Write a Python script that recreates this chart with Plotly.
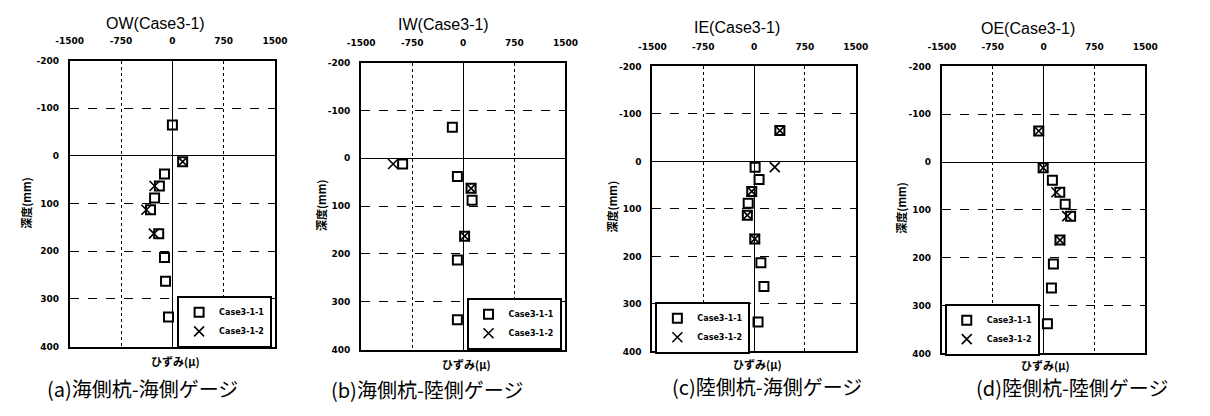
import plotly.graph_objects as go

W, H = 1210, 416

# ---- data (strain in micro, depth in mm) ----
depth_1 = [-65, 12, 38, 63, 88, 113, 163, 213, 263, 338]
depth_2 = [-65, 12, 63, 113, 163]

ow_case1 = [0, 150, -115, -190, -260, -320, -200, -115, -100, -57]
ow_case2 = [None, 150, -260, -380, -270]

iw_case1 = [-160, -890, -86, 115, 130, None, 20, -86, None, -86]
iw_case2 = [None, -1030, 115, None, 20]

ie_case1 = [380, 15, 73, -35, -87, -100, 10, 100, 145, 58]
ie_case2 = [380, 305, -35, -100, 10]

oe_case1 = [-70, -5, 131, 240, 320, 400, 243, 146, 117, 58]
oe_case2 = [-70, -5, 190, 350, 243]

panel_titles = ["OW(Case3-1)", "IW(Case3-1)", "IE(Case3-1)", "OE(Case3-1)"]
captions = ["(a)海側杭-海側ゲージ", "(b)海側杭-陸側ゲージ", "(c)陸側杭-海側ゲージ", "(d)陸側杭-陸側ゲージ"]
series_names = ["Case3-1-1", "Case3-1-2"]
x_ticks = [-1500, -750, 0, 750, 1500]
y_ticks = [-200, -100, 0, 100, 200, 300, 400]
x_title = "ひずみ(μ)"
y_title = "深度(mm)"

case1 = [ow_case1, iw_case1, ie_case1, oe_case1]
case2 = [ow_case2, iw_case2, ie_case2, oe_case2]

# ---- layout geometry (pixels) ----
plot_px = [  # left, right, top, bottom
    (57, 267, 57, 350),
    (355, 564, 59, 353),
    (653, 861, 63, 355),
    (949, 1157, 63, 357),
]
# (x, y, xanchor)
legend_px = [(264, 298, "right"), (560, 300, "right"), (656, 304, "left"), (952, 306, "left")]
title_px = [(145, 19), (439, 20), (740, 23), (1037, 24)]
xtitle_px = [(165, 365), (463, 368), (760, 368), (1055, 369)]
ytitle_px = [(12, 203), (314, 205), (612, 206), (907, 208)]
caption_px = [(131, 393), (422, 394), (770, 391), (1082, 392)]

def px(x):
    return x / W

def py(y):
    return 1 - y / H

fig = go.Figure()
tickfont = dict(family="DejaVu Sans", size=9, color="black", weight="bold")
cjk = "Noto Sans CJK JP"

annotations = []
for i in range(4):
    n = "" if i == 0 else str(i + 1)
    leg = "legend" + n
    fig.add_trace(go.Scatter(
        x=case1[i], y=depth_1, mode="markers", name=series_names[0],
        xaxis="x" + n, yaxis="y" + n, legend=leg,
        marker=dict(symbol="square-open", size=9, color="black", line=dict(width=2, color="black")),
    ))
    fig.add_trace(go.Scatter(
        x=case2[i], y=depth_2, mode="markers", name=series_names[1],
        xaxis="x" + n, yaxis="y" + n, legend=leg,
        marker=dict(symbol="x-thin-open", size=10, color="black", line=dict(width=1.6, color="black")),
    ))
    l, r, t, b = plot_px[i]
    lx, ly, la = legend_px[i]
    fig.update_layout(**{
        "xaxis" + n: dict(
            domain=[px(l), px(r)], anchor="y" + n, side="top",
            range=[-1500, 1500], tickvals=x_ticks, ticktext=[str(v) for v in x_ticks],
            showgrid=True, gridcolor="black", gridwidth=1.2, griddash="dot",
            zeroline=True, zerolinecolor="black", zerolinewidth=1,
            showline=True, mirror=True, linecolor="black", linewidth=2,
            ticks="", tickfont=tickfont, ticklabelstandoff=11,
        ),
        "yaxis" + n: dict(
            domain=[py(b), py(t)], anchor="x" + n,
            range=[400, -200], tickvals=y_ticks, ticktext=[str(v) for v in y_ticks],
            showgrid=True, gridcolor="black", gridwidth=1.2, griddash="dash",
            zeroline=True, zerolinecolor="black", zerolinewidth=1,
            showline=True, mirror=True, linecolor="black", linewidth=2,
            ticks="", tickfont=tickfont, ticklabelstandoff=7,
        ),
        leg: dict(
            x=px(lx), y=py(ly), xanchor=la, yanchor="top",
            bgcolor="white", bordercolor="black", borderwidth=2,
            font=dict(family="DejaVu Sans", size=8, color="black", weight="bold"),
            itemwidth=30, tracegroupgap=0,
        ),
    })
    tx, ty = title_px[i]
    annotations.append(dict(x=px(tx), y=py(ty), xref="paper", yref="paper", text=panel_titles[i],
                            showarrow=False, xanchor="center", yanchor="middle",
                            font=dict(family="Liberation Sans", size=16, color="black")))
    tx, ty = xtitle_px[i]
    annotations.append(dict(x=px(tx), y=py(ty), xref="paper", yref="paper", text=x_title,
                            showarrow=False, xanchor="center", yanchor="middle",
                            font=dict(family=cjk, size=11, color="black", weight="bold")))
    tx, ty = ytitle_px[i]
    annotations.append(dict(x=px(tx), y=py(ty), xref="paper", yref="paper", text=y_title,
                            showarrow=False, xanchor="center", yanchor="middle", textangle=-90,
                            font=dict(family=cjk, size=11, color="black", weight="bold")))
    tx, ty = caption_px[i]
    annotations.append(dict(x=px(tx), y=py(ty), xref="paper", yref="paper", text=captions[i],
                            showarrow=False, xanchor="center", yanchor="middle",
                            font=dict(family=cjk, size=20, color="black")))

fig.update_layout(
    width=W, height=H, margin=dict(l=0, r=0, t=0, b=0),
    paper_bgcolor="white", plot_bgcolor="white", showlegend=True,
    annotations=annotations,
)

fig.write_html("out.html")
